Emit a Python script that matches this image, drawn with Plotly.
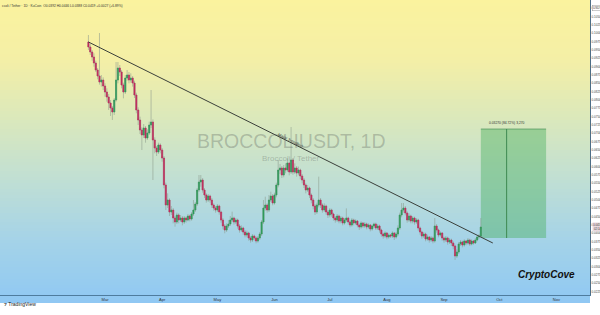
import plotly.graph_objects as go
import pandas as pd

# ---------------- DATA (prices in units of 0.0001 USDT) ----------------
UNIT = 1e-4
first_open = 974
closes_u = [959,944,929,911,890,872,854,860,842,824,
            809,791,776,764,800,860,896,884,845,824,
            866,875,860,866,851,815,770,740,710,695,
            716,686,701,725,734,680,656,644,665,650,
            626,545,485,500,464,470,446,434,455,440,
            446,434,446,440,452,443,458,470,488,530,
            554,560,530,515,500,512,500,485,476,470,
            482,464,440,422,410,422,428,440,446,434,
            440,422,410,416,404,395,401,386,380,392,
            386,377,386,398,434,476,485,470,500,512,
            491,515,545,590,596,575,596,590,611,584,
            620,584,596,581,590,572,560,545,530,536,
            515,500,482,464,485,500,485,470,482,464,
            455,470,458,446,440,452,437,446,431,440,
            446,434,425,440,431,437,425,419,431,422,
            428,419,425,413,422,428,416,422,410,398,
            392,401,389,395,392,401,389,398,416,455,
            470,476,461,440,452,437,446,434,440,416,
            404,392,398,383,389,380,386,377,422,410,
            395,401,386,380,386,374,380,371,362,332,
            344,368,374,365,377,371,380,368,377,371,
            380,389,392,419]
highs_u = [995,968,950,940,918,896,1001,875,868,850,
           835,818,800,782,806,914,914,905,890,852,
           875,890,884,880,872,858,822,778,750,718,
           728,722,712,735,830,742,688,662,672,670,
           656,632,552,520,505,482,476,452,462,460,
           455,452,452,450,458,456,464,500,494,536,
           575,575,566,536,520,518,516,506,490,482,
           488,486,468,446,428,430,440,452,465,450,
           446,444,428,424,420,410,408,405,392,398,
           396,390,392,404,440,500,510,490,515,525,
           518,522,552,620,608,602,605,610,625,616,
           719,626,610,602,600,594,578,566,550,545,
           540,520,506,488,492,570,506,490,490,486,
           470,476,474,462,452,458,456,452,450,446,
           475,450,438,446,444,442,440,430,436,434,
           434,432,430,428,426,432,432,428,426,414,
           402,406,404,400,398,406,404,404,424,462,
           491,491,482,466,460,456,452,450,446,444,
           420,408,404,402,396,392,392,390,446,428,
           414,406,404,390,392,390,386,384,376,366,
           352,374,380,378,382,380,386,384,382,380,
           386,394,398,446]
lows_u = [950,935,918,900,884,862,846,840,830,810,
          795,770,752,740,755,795,850,872,835,805,
          818,858,850,852,840,806,760,725,698,650,
          686,672,680,695,716,560,640,632,638,640,
          615,535,470,476,452,455,430,420,428,430,
          434,424,428,432,436,436,438,452,464,482,
          524,540,522,506,492,494,492,476,468,462,
          464,456,432,412,400,404,416,422,434,426,
          428,414,402,404,396,388,388,378,372,374,
          378,370,372,380,392,428,468,462,464,494,
          484,486,508,538,578,566,568,580,584,574,
          578,576,578,570,574,562,550,536,520,524,
          506,490,472,455,458,478,476,462,464,456,
          446,448,450,438,432,434,430,430,424,426,
          434,426,418,420,424,426,418,410,414,416,
          416,412,414,406,408,416,410,410,402,390,
          384,386,382,384,386,386,380,384,392,410,
          448,462,454,432,434,430,430,426,428,408,
          396,384,386,376,378,372,374,370,372,402,
          388,390,378,372,374,366,368,362,352,320,
          326,338,362,358,360,364,366,362,364,366,
          368,376,384,388]
start_date = "2025-02-20"

closes = [v * UNIT for v in closes_u]
highs = [v * UNIT for v in highs_u]
lows = [v * UNIT for v in lows_u]
opens = [first_open * UNIT] + closes[:-1]
dates = pd.date_range(start_date, periods=len(closes), freq="D")

# Trendline drawn on chart
trend_dates = ["2025-02-20", "2025-09-27 12:00"]
trend_prices = [0.0974, 0.0371]
# Target box (long projection)
box_dates = ["2025-09-21", "2025-10-26 10:00"]
box_prices = [0.0386, 0.0713]
box_mid_date = "2025-10-05"
box_label = "0.03270 (84.72%) 3,270"

month_ticks = ["2025-03-01", "2025-04-01", "2025-05-01", "2025-06-01", "2025-07-01",
               "2025-08-01", "2025-09-01", "2025-10-01", "2025-11-01"]
month_labels = ["Mar", "Apr", "May", "Jun", "Jul", "Aug", "Sep", "Oct", "Nov"]

# ---------------- FIGURE ----------------
fig = go.Figure()

wick_col = "rgba(140,155,140,0.7)"
fig.add_trace(go.Candlestick(
    x=dates, open=opens, high=highs, low=lows, close=closes,
    increasing=dict(line=dict(color=wick_col, width=0.8), fillcolor=wick_col),
    decreasing=dict(line=dict(color=wick_col, width=0.8), fillcolor=wick_col),
    hoverinfo="skip", showlegend=False))
body_hi = [max(o, c) for o, c in zip(opens, closes)]
body_lo = [min(o, c) for o, c in zip(opens, closes)]
fig.add_trace(go.Candlestick(
    x=dates, open=opens, high=body_hi, low=body_lo, close=closes,
    increasing=dict(line=dict(color="#2E9A5A", width=0.5), fillcolor="#2E9A5A"),
    decreasing=dict(line=dict(color="#C22A5C", width=0.5), fillcolor="#C22A5C"),
    showlegend=False))

# gradient background bands (styling)
stops = [(0, (251, 243, 158)), (60, (244, 239, 166)), (120, (218, 232, 188)),
         (180, (192, 223, 212)), (240, (165, 211, 232)), (304, (143, 200, 243))]
def col_at(py):
    for (p0, c0), (p1, c1) in zip(stops[:-1], stops[1:]):
        if p0 <= py <= p1:
            t = (py - p0) / (p1 - p0)
            return "rgb(%d,%d,%d)" % tuple(round(a + (b - a) * t) for a, b in zip(c0, c1))
    return "rgb(%d,%d,%d)" % stops[-1][1]

H = 295.0
shapes = []
step = 3
for k in range(0, 303, step):
    shapes.append(dict(type="rect", xref="paper", yref="paper", x0=0, x1=1,
                       y0=(H - (k + step)) / H, y1=(H - k) / H,
                       fillcolor=col_at(k + step / 2), line=dict(width=0), layer="below"))
# target box
shapes.append(dict(type="rect", xref="x", yref="y", x0=box_dates[0], x1=box_dates[1],
                   y0=box_prices[0], y1=box_prices[1],
                   fillcolor="rgba(70,175,90,0.42)", line=dict(width=0), layer="below"))
shapes.append(dict(type="line", xref="x", yref="y", x0=box_dates[0], x1=box_dates[1],
                   y0=box_prices[1], y1=box_prices[1],
                   line=dict(color="rgba(50,130,70,0.7)", width=0.8), layer="below"))
shapes.append(dict(type="line", xref="x", yref="y", x0=box_mid_date, x1=box_mid_date,
                   y0=box_prices[0], y1=box_prices[1],
                   line=dict(color="#3E8A52", width=1), layer="above"))
# trendline
shapes.append(dict(type="line", xref="x", yref="y", x0=trend_dates[0], x1=trend_dates[1],
                   y0=trend_prices[0], y1=trend_prices[1],
                   line=dict(color="#3a3f3a", width=1), layer="above"))

small = dict(family="Liberation Sans, Arial", size=3.3, color="#333")
annotations = [
    dict(text="BROCCOLIUSDT, 1D", xref="paper", yref="paper", x=0.494, y=(H - 141) / H,
         showarrow=False, font=dict(family="Liberation Sans, Arial", size=19.5,
                                    color="rgba(90,95,90,0.32)")),
    dict(text="Broccoli / Tether", xref="paper", yref="paper", x=0.494, y=(H - 158) / H,
         showarrow=False, font=dict(family="Liberation Sans, Arial", size=8,
                                    color="rgba(90,95,90,0.35)")),
    dict(text="Major Trendline", xref="paper", yref="paper", x=(291 / 590), y=(H - 140) / H,
         showarrow=False, textangle=27, font=dict(family="Liberation Sans, Arial", size=4,
                                                  color="#222")),
    dict(text="ccoli / Tether · 1D · KuCoin  O0.0392 H0.0446 L0.0388 C0.0419 +0.0027 (+6.89%)",
         xref="paper", yref="paper", x=0, y=(H - 2) / H, xanchor="left", yanchor="top",
         showarrow=False, font=small),
    dict(text=box_label, xref="x", yref="y", x=box_mid_date, y=box_prices[1],
         yshift=6, showarrow=False, font=small),
    dict(text="<b><i>CryptoCove</i></b>", xref="paper", yref="paper", x=577 / 590,
         y=(H - 282) / H, xanchor="right", showarrow=False,
         font=dict(family="Liberation Sans, Arial", size=10, color="#111")),
    dict(text="<b>⁊</b> TradingView", xref="paper", yref="paper", x=0.003,
         y=(H - 309) / H, xanchor="left", showarrow=False,
         font=dict(family="Liberation Sans, Arial", size=5, color="#222")),
    dict(text="USDT", xref="paper", yref="paper", x=1.004, y=(H - 5) / H, xanchor="left",
         showarrow=False, bgcolor="white", bordercolor="#999", borderwidth=0.5, borderpad=0.5,
         font=dict(family="Liberation Sans, Arial", size=3, color="#333")),
    dict(text="%.4f<br>02:14" % closes[-1], xref="paper", yref="y", x=1.003, y=closes[-1],
         xanchor="left", showarrow=False, bgcolor="#EAD9DE", borderpad=0.3,
         font=dict(family="Liberation Sans, Arial", size=2.6, color="#333")),
]

fig.update_layout(
    width=600, height=315,
    margin=dict(l=0, r=10, t=0, b=20),
    paper_bgcolor="white", plot_bgcolor="rgba(0,0,0,0)",
    shapes=shapes, annotations=annotations,
    showlegend=False, hovermode=False, boxgap=0.12,
    xaxis=dict(type="date", range=["2025-01-03", "2025-11-19 06:00"],
               rangeslider=dict(visible=False), showgrid=False, zeroline=False,
               tickvals=month_ticks, ticktext=month_labels, ticks="",
               tickfont=dict(family="Liberation Sans, Arial", size=4, color="#333"),
               showline=True, linecolor="#4E7C9E", linewidth=1, automargin=False),
    yaxis=dict(side="right", range=[0.0215, 0.1100], showgrid=False, zeroline=False,
               tick0=0.0225, dtick=0.0025, tickformat=".4f", ticks="",
               tickfont=dict(family="Liberation Sans, Arial", size=3, color="#444"),
               showline=True, linecolor="#4E6E86", linewidth=1, automargin=False),
)

fig.write_html("out.html")
